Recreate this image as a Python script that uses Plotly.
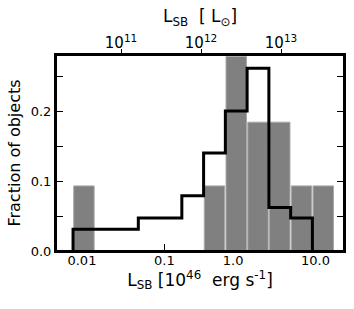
import numpy as np
import plotly.graph_objects as go

# x quantity: log10(L_SB / 1e46 erg s^-1); histogram bin edges
bin_edges = [-2.141, -1.869, -1.597, -1.325, -1.053, -0.781, -0.509,
             -0.237, 0.035, 0.307, 0.579, 0.851, 1.123]
# grey filled histogram (fraction of objects per bin)
frac_grey = [0.093, 0.0, 0.0, 0.0, 0.0, 0.0, 0.093, 0.278, 0.184, 0.184, 0.093, 0.093]
# black step histogram (fraction of objects per bin)
frac_step = [0.031, 0.031, 0.031, 0.047, 0.047, 0.079, 0.140, 0.200, 0.261, 0.062, 0.047, 0.0]

bottom_tick_vals = [-2.03, -1.0, -0.14, 0.89]
bottom_tick_text = ["0.01", "0.1", "1.0", "10.0"]
top_tick_vals = [11, 12, 13]          # log10(L_SB / L_sun)
top_tick_text = ["10<sup>11</sup>", "10<sup>12</sup>", "10<sup>13</sup>"]
y_tick_vals = [0.0, 0.05, 0.1, 0.15, 0.2, 0.25]
y_tick_text = ["0.0", "", "0.1", "", "0.2", ""]

x_range = [-2.354, 1.246]
top_range = [10.187, 13.787]
y_range = [0.0, 0.28]

edges = np.array(bin_edges)
centers = (edges[:-1] + edges[1:]) / 2
widths = np.diff(edges)

FONT = "DejaVu Sans"

fig = go.Figure()
fig.add_trace(go.Bar(
    x=centers, y=frac_grey, width=widths * 0.94,
    marker=dict(color="#808080", line=dict(color="#a9a9a9", width=1)),
    showlegend=False, hoverinfo="skip",
))

# step outline from the bin edges
xs = [edges[0]]
ys = [0.0]
for i, v in enumerate(frac_step):
    if v == 0.0 and i == len(frac_step) - 1:
        xs.append(edges[i]); ys.append(0.0)
        break
    xs += [edges[i], edges[i + 1]]
    ys += [v, v]
fig.add_trace(go.Scatter(
    x=xs, y=ys, mode="lines", line=dict(color="black", width=3),
    showlegend=False, hoverinfo="skip",
))
# dummy trace so the top axis is drawn
fig.add_trace(go.Scatter(x=[], y=[], xaxis="x2", showlegend=False))

axis_common = dict(showgrid=False, zeroline=False, color="black", automargin=False)

fig.update_layout(
    width=354, height=309,
    margin=dict(l=56, r=10, t=55, b=58),
    paper_bgcolor="white", plot_bgcolor="white",
    font=dict(family=FONT, color="black"),
    xaxis=dict(range=x_range, tickmode="array", tickvals=bottom_tick_vals,
               ticktext=bottom_tick_text, ticks="inside", ticklen=7, tickwidth=1,
               tickcolor="black", showline=True, linecolor="black", linewidth=2,
               mirror=True, layer="below traces", ticklabelstandoff=-4,
               tickfont=dict(family=FONT, size=13, color="black"),
               title=dict(text="L<sub>SB</sub> [10<sup>46</sup>  erg s<sup>-1</sup>]",
                          font=dict(family=FONT, size=17), standoff=6),
               **axis_common),
    xaxis2=dict(range=top_range, overlaying="x", side="top", anchor="y",
                tickmode="array", tickvals=top_tick_vals, ticktext=top_tick_text,
                ticks="outside", ticklen=5, tickwidth=1, tickcolor="black",
                showline=False, ticklabelstandoff=-5,
                tickfont=dict(family=FONT, size=15, color="black"),
                title=dict(text="L<sub>SB</sub>  [ L<sub>⊙</sub>]",
                           font=dict(family=FONT, size=17), standoff=4),
                **axis_common),
    yaxis=dict(range=y_range, tickmode="array", tickvals=y_tick_vals,
               ticktext=y_tick_text, ticks="inside", ticklen=7, tickwidth=1,
               tickcolor="black", showline=True, linecolor="black", linewidth=2,
               mirror="ticks", layer="below traces",
               tickfont=dict(family=FONT, size=13, color="black"),
               title=dict(text="Fraction of objects", font=dict(family=FONT, size=16),
                          standoff=6),
               **axis_common),
    shapes=[dict(type="rect", xref="paper", yref="paper", x0=0, x1=1, y0=0, y1=1,
                 line=dict(color="black", width=2), layer="above")],
)

fig.write_html("out.html", config={"displayModeBar": False},
               post_script="document.body.style.margin='0px';document.body.style.padding='0px';")
